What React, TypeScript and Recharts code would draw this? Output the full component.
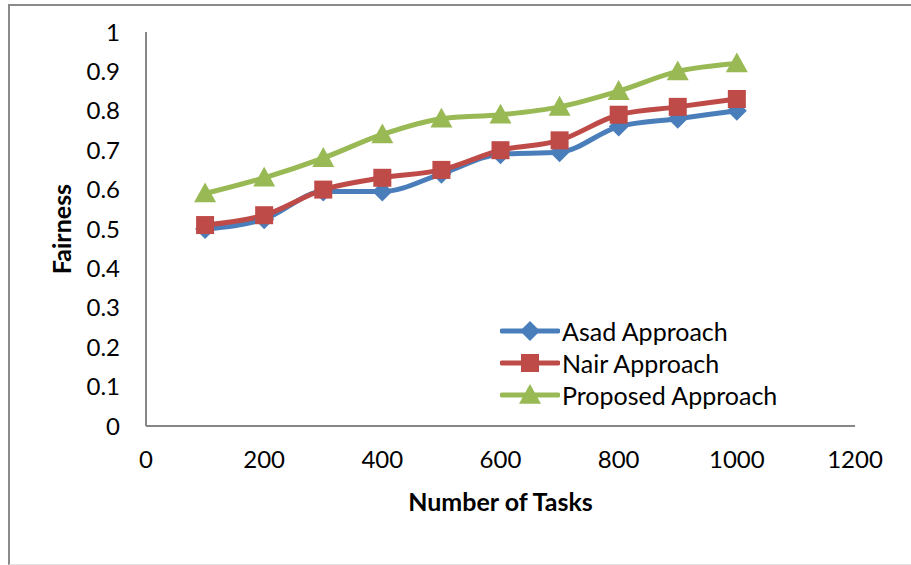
import { LineChart, Line, XAxis, YAxis, Legend } from 'recharts';

const tasks = [100, 200, 300, 400, 500, 600, 700, 800, 900, 1000];
const asad = [0.5, 0.525, 0.595, 0.595, 0.64, 0.69, 0.695, 0.76, 0.78, 0.8];
const nair = [0.51, 0.535, 0.6, 0.63, 0.65, 0.7, 0.725, 0.79, 0.81, 0.83];
const proposed = [0.59, 0.63, 0.68, 0.74, 0.78, 0.79, 0.81, 0.85, 0.9, 0.92];
const xTicks = [0, 200, 400, 600, 800, 1000, 1200];
const yTicks = [0, 0.1, 0.2, 0.3, 0.4, 0.5, 0.6, 0.7, 0.8, 0.9, 1];

const data = tasks.map((t, i) => ({ tasks: t, asad: asad[i], nair: nair[i], proposed: proposed[i] }));

const FONT = 'Lato, "Open Sans", sans-serif';
const BLUE = '#4A7EBB';
const RED = '#BE4B48';
const GREEN = '#98B954';

const marker = (kind: string, cx: number, cy: number, fill: string, key?: string) => {
  if (kind === 'diamond') {
    const r = 10;
    return <path key={key} d={`M${cx},${cy - r}L${cx + r},${cy}L${cx},${cy + r}L${cx - r},${cy}Z`} fill={fill} />;
  }
  if (kind === 'square') {
    const r = 9;
    return <rect key={key} x={cx - r} y={cy - r} width={r * 2} height={r * 2} fill={fill} />;
  }
  const r = 11;
  return <path key={key} d={`M${cx},${cy - r}L${cx + r},${cy + r * 0.8}L${cx - r},${cy + r * 0.8}Z`} fill={fill} />;
};

const dotFor = (kind: string, fill: string) => (props: any) =>
  marker(kind, props.cx, props.cy, fill, `${kind}-${props.index}`);

const legendItems = [
  { name: 'Asad Approach', color: BLUE, kind: 'diamond' },
  { name: 'Nair Approach', color: RED, kind: 'square' },
  { name: 'Proposed Approach', color: GREEN, kind: 'triangle' },
];

const LegendBox = () => (
  <div style={{ fontFamily: FONT }}>
    {legendItems.map((it) => (
      <div key={it.name} style={{ display: 'flex', alignItems: 'center', height: 32 }}>
        <svg width={60} height={26}>
          <line x1={2} y1={13} x2={58} y2={13} stroke={it.color} strokeWidth={5} strokeLinecap="round" />
          {marker(it.kind, 30, 13, it.color)}
        </svg>
        <span style={{ fontSize: 25, color: '#000', marginLeft: 2 }}>{it.name}</span>
      </div>
    ))}
  </div>
);

const App = () => {
  return (
    <div style={{ position: 'absolute', left: 0, top: 0, width: 911, height: 565, background: '#fff', overflow: 'hidden' }}>
      <div
        style={{
          position: 'absolute',
          left: 8,
          top: 4,
          width: 920,
          height: 558,
          borderLeft: '2px solid #8a8a8a',
          borderTop: '2px solid #8a8a8a',
          borderBottom: '1px solid #e2e2e2',
        }}
      />
      <div style={{ position: 'absolute', left: 0, top: 0 }}>
        <LineChart width={911} height={565} data={data} margin={{ top: 32, right: 56, bottom: 99, left: 86 }}>
          <XAxis
            dataKey="tasks"
            type="number"
            domain={[0, 1200]}
            ticks={xTicks}
            interval={0}
            height={40}
            tickLine={false}
            tickSize={0}
            tickMargin={25}
            axisLine={{ stroke: '#868686', strokeWidth: 2 }}
            tick={{ fill: '#000', fontSize: 24, fontFamily: FONT }}
            label={{ value: 'Number of Tasks', position: 'insideBottom', offset: -45, fill: '#000', fontSize: 25, fontWeight: 700, fontFamily: FONT }}
          />
          <YAxis
            type="number"
            domain={[0, 1]}
            ticks={yTicks}
            interval={0}
            width={60}
            tickLine={false}
            tickSize={0}
            tickMargin={26}
            axisLine={{ stroke: '#868686', strokeWidth: 2 }}
            tick={{ fill: '#000', fontSize: 24, fontFamily: FONT }}
            label={{ value: 'Fairness', angle: -90, position: 'insideLeft', offset: -24, fill: '#000', fontSize: 25, fontWeight: 700, fontFamily: FONT, style: { textAnchor: 'middle' } }}
          />
          <Legend
            content={<LegendBox />}
            layout="vertical"
            align="center"
            verticalAlign="middle"
            wrapperStyle={{ left: 500, top: 315, width: 320 }}
          />
          <Line type="monotone" dataKey="asad" name="Asad Approach" stroke={BLUE} strokeWidth={5} dot={dotFor('diamond', BLUE)} isAnimationActive={false} />
          <Line type="monotone" dataKey="nair" name="Nair Approach" stroke={RED} strokeWidth={5} dot={dotFor('square', RED)} isAnimationActive={false} />
          <Line type="monotone" dataKey="proposed" name="Proposed Approach" stroke={GREEN} strokeWidth={5} dot={dotFor('triangle', GREEN)} isAnimationActive={false} />
        </LineChart>
      </div>
    </div>
  );
};

export default App;
